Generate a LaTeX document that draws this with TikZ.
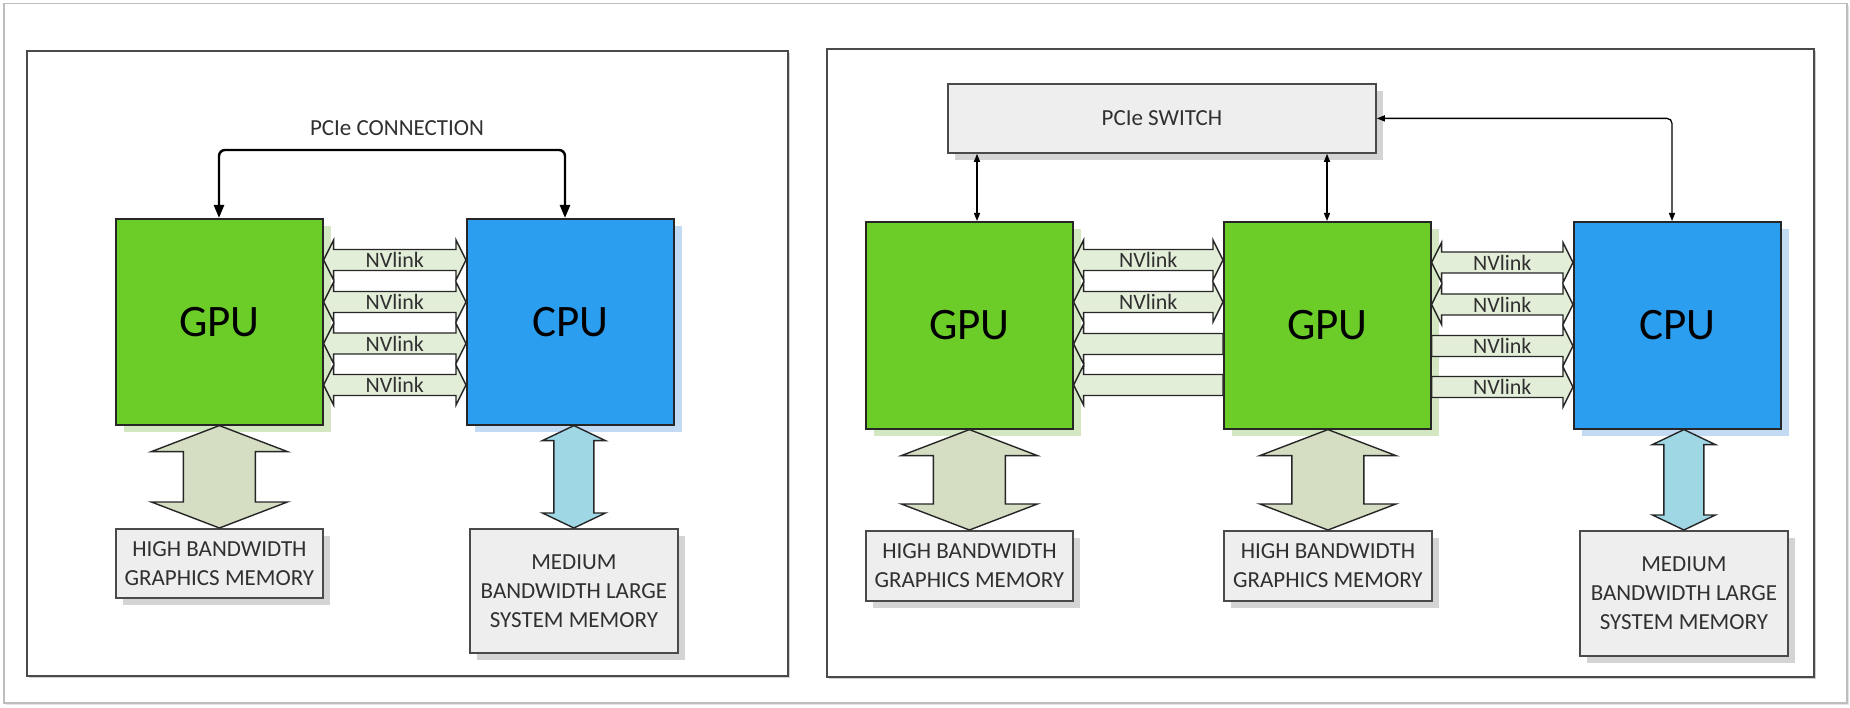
\documentclass[tikz,border=0pt]{standalone}
\usepackage{fontspec}
\setmainfont{Carlito}
\usetikzlibrary{arrows.meta,shadows,calc}
\definecolor{gpugreen}{HTML}{6CCD29}
\definecolor{cpublue}{HTML}{2C9EF0}
\definecolor{gshadow}{HTML}{D3E7C2}
\definecolor{bshadow}{HTML}{C2DAF2}
\definecolor{boxgray}{HTML}{EEEEEE}
\definecolor{boxshadow}{HTML}{D4D4D4}
\definecolor{nvfill}{HTML}{E3EED9}
\definecolor{hbmfill}{HTML}{D5DEC3}
\definecolor{memfill}{HTML}{9FD7E5}
\definecolor{txtgray}{HTML}{303030}
\definecolor{edgecol}{HTML}{262626}
\definecolor{framecol}{HTML}{4A4A4A}
\definecolor{outercol}{HTML}{BDBDBD}
\definecolor{outershadow}{HTML}{E4E4E4}
\definecolor{frameshadow}{HTML}{CFCFCF}

\newcommand\nvBoth[4]{%
  \draw[nvl] let \p1=(#1.east), \p2=(#2.west), \p3=(0,#3) in
    (\x1,\y3) -- ++(10,-20) -- ++(0,9.5) -- (\x2-10pt,\y3+10.5pt) -- ++(0,-9.5)
    -- (\x2,\y3) -- ++(-10,20) -- ++(0,-9.5) -- (\x1+10pt,\y3-10.5pt) -- ++(0,9.5) -- cycle;
  \path let \p1=(#1.east), \p2=(#2.west), \p3=(0,#3) in
    node[nvtxt] at ({0.5*\x1+0.5*\x2},\y3) {#4};}
\newcommand\nvLeftHead[4]{%
  \draw[nvl] let \p1=(#1.east), \p2=(#2.west), \p3=(0,#3) in
    (\x1,\y3) -- ++(10,-20) -- ++(0,9.5) -- (\x2,\y3+10.5pt) -- (\x2,\y3-10.5pt)
    -- (\x1+10pt,\y3-10.5pt) -- ++(0,9.5) -- cycle;
  \path let \p1=(#1.east), \p2=(#2.west), \p3=(0,#3) in
    node[nvtxt] at ({0.5*\x1+0.5*\x2},\y3) {#4};}
\newcommand\nvRightHead[4]{%
  \draw[nvl] let \p1=(#1.east), \p2=(#2.west), \p3=(0,#3) in
    (\x1,\y3+10.5pt) -- (\x2-10pt,\y3+10.5pt) -- ++(0,-9.5) -- (\x2,\y3) -- ++(-10,20)
    -- ++(0,-9.5) -- (\x1,\y3-10.5pt) -- cycle;
  \path let \p1=(#1.east), \p2=(#2.west), \p3=(0,#3) in
    node[nvtxt] at ({0.5*\x1+0.5*\x2},\y3) {#4};}
\newcommand\memArrow[6]{%
  \draw[#6] let \p1=(#2.north |- #1.south), \p2=(#2.north) in
    (\x1,\y1) -- ++(#3,#5) -- ++({#4-#3},0) -- (\x1+#4pt,\y2+#5pt) -- ++({#3-#4},0)
    -- (\x2,\y2) -- ++(-#3,-#5) -- ++({#3-#4},0) -- (\x1-#4pt,\y1-#5pt) -- ++({#4-#3},0) -- cycle;}

\begin{document}
\begin{tikzpicture}[x=1pt,y=-1pt,
  chip/.style={draw=edgecol, line width=1.6pt, minimum width=207pt, minimum height=207pt,
    anchor=north west, inner sep=0pt, font=\fontsize{45}{50}\selectfont, text=black},
  gpubox/.style={chip, fill=gpugreen, general shadow={fill=gshadow, shadow xshift=8pt, shadow yshift=-7pt}},
  cpubox/.style={chip, fill=cpublue, general shadow={fill=bshadow, shadow xshift=8pt, shadow yshift=-7pt}},
  membox/.style={draw=framecol, line width=1.8pt, fill=boxgray, anchor=north west, inner sep=0pt,
    align=center, text=txtgray, font=\fontsize{23}{29}\selectfont,
    general shadow={fill=boxshadow, shadow xshift=7pt, shadow yshift=-7pt}},
  panel/.style={draw=framecol, line width=1.8pt, fill=white, anchor=north west, inner sep=0pt,
    general shadow={fill=frameshadow, shadow xshift=2pt, shadow yshift=-2pt}},
  outerbox/.style={draw=outercol, line width=1.5pt, fill=white, anchor=north west, inner sep=0pt,
    general shadow={fill=outershadow, shadow xshift=2pt, shadow yshift=-2pt}},
  nvl/.style={draw=edgecol, line width=1.4pt, fill=nvfill, line join=miter},
  nvtxt/.style={text=txtgray, font=\fontsize{22}{26}\selectfont, inner sep=0pt},
  lbl/.style={text=txtgray, font=\fontsize{23}{27}\selectfont, inner sep=0pt},
  hbmarrow/.style={draw=edgecol, line width=1.4pt, fill=hbmfill},
  sysarrow/.style={draw=edgecol, line width=1.4pt, fill=memfill},
  pciethick/.style={draw=black, line width=2.4pt, rounded corners=6pt,
    {Triangle[length=13pt,width=10pt]}-{Triangle[length=13pt,width=10pt]}},
  pciethin/.style={draw=black, line width=1.3pt, rounded corners=5pt,
    {Triangle[length=8pt,width=6pt]}-{Triangle[length=8pt,width=6pt]}}
]
\useasboundingbox (0,0) rectangle (1850,708);
\node[outerbox, minimum width=1843pt, minimum height=699pt] (outer) at (3,3) {};

% ---------- left panel ----------
\node[panel, minimum width=761pt, minimum height=625pt] (frameL) at (26,50) {};
\node[gpubox, minimum height=206pt] (gpuL) at (115,218) {GPU};
\node[cpubox, minimum height=206pt] (cpuL) at (466,218) {CPU};
\node[membox, minimum width=207pt, minimum height=69pt] (hbmL) at (115,528) {HIGH BANDWIDTH\\GRAPHICS MEMORY};
\node[membox, minimum width=208pt, minimum height=124pt] (smemL) at (469,528) {MEDIUM\\BANDWIDTH LARGE\\SYSTEM MEMORY};
\node[lbl] (pcielbl) at (397,128) {PCIe CONNECTION};
\coordinate (pcl) at (219,150);
\coordinate (pcr) at (565,150);
\draw[pciethick] (gpuL.north -| pcl) -- (pcl) -- (pcr) -- (cpuL.north -| pcr);

\nvBoth{gpuL}{cpuL}{260}{NVlink}
\nvBoth{gpuL}{cpuL}{302}{NVlink}
\nvBoth{gpuL}{cpuL}{343.5}{NVlink}
\nvBoth{gpuL}{cpuL}{385}{NVlink}

\memArrow{gpuL}{hbmL}{68}{36}{26}{hbmarrow}
\memArrow{cpuL}{smemL}{31.5}{20}{15}{sysarrow}

% ---------- right panel ----------
\node[panel, minimum width=987pt, minimum height=628pt] (frameR) at (826,48) {};
\node[membox, minimum width=428pt, minimum height=69pt] (switch) at (947,83) {PCIe SWITCH};
\node[gpubox] (gpuA) at (865,221) {GPU};
\node[gpubox] (gpuB) at (1223,221) {GPU};
\node[cpubox] (cpuR) at (1573,221) {CPU};
\node[membox, minimum width=207pt, minimum height=70pt] (hbmA) at (865,530) {HIGH BANDWIDTH\\GRAPHICS MEMORY};
\node[membox, minimum width=208pt, minimum height=70pt] (hbmB) at (1223,530) {HIGH BANDWIDTH\\GRAPHICS MEMORY};
\node[membox, minimum width=208pt, minimum height=125pt] (smemR) at (1579,530) {MEDIUM\\BANDWIDTH LARGE\\SYSTEM MEMORY};

\coordinate (sa) at (977,0);
\coordinate (sb) at (1327,0);
\coordinate (sc) at (1672,0);
\draw[pciethin] (sa |- switch.south) -- (sa |- gpuA.north);
\draw[pciethin] (sb |- switch.south) -- (sb |- gpuB.north);
\draw[pciethin] (switch.east) -| (sc |- cpuR.north);

\nvBoth{gpuA}{gpuB}{260}{NVlink}
\nvBoth{gpuA}{gpuB}{302}{NVlink}
\nvLeftHead{gpuA}{gpuB}{344}{}
\nvLeftHead{gpuA}{gpuB}{385}{}

\nvBoth{gpuB}{cpuR}{262.5}{NVlink}
\nvBoth{gpuB}{cpuR}{304.5}{NVlink}
\nvRightHead{gpuB}{cpuR}{346}{NVlink}
\nvRightHead{gpuB}{cpuR}{387}{NVlink}

\memArrow{gpuA}{hbmA}{68}{36}{26}{hbmarrow}
\memArrow{gpuB}{hbmB}{68}{36}{26}{hbmarrow}
\memArrow{cpuR}{smemR}{31.5}{20}{15}{sysarrow}
\end{tikzpicture}
\end{document}
